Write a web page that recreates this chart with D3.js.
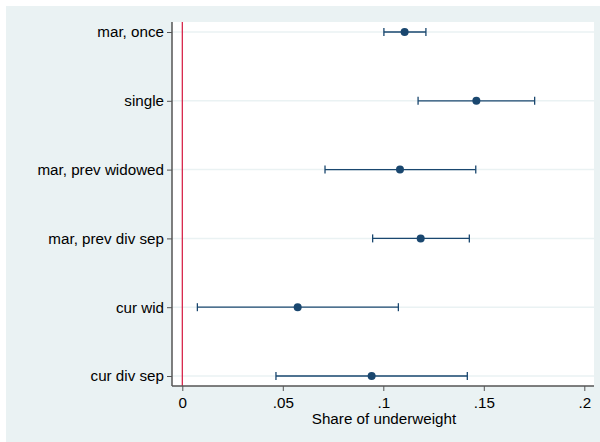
<!DOCTYPE html>
<html><head><meta charset="utf-8">
<script src="https://cdn.jsdelivr.net/npm/d3@7"></script>
<style>body{margin:0;background:#fff}svg{display:block}text{font-family:Arial,"Liberation Sans",sans-serif;fill:#000}</style>
</head><body>
<svg id="c" width="600" height="442"></svg>
<script>
const categories = ["mar, once","single","mar, prev widowed","mar, prev div sep","cur wid","cur div sep"];
const estimates = [0.1106, 0.1463, 0.1083, 0.1186, 0.0574, 0.0942];
const lowerCI = [0.1003, 0.1173, 0.0710, 0.0947, 0.0075, 0.0466];
const upperCI = [0.1212, 0.1753, 0.1460, 0.1428, 0.1075, 0.1418];
const xTicks = [0, 0.05, 0.1, 0.15, 0.2];
const xTickLabels = ["0", ".05", ".1", ".15", ".2"];
const xTitle = "Share of underweight";

const FS = 15.2;
const svg = d3.select("#c");
svg.append("rect").attr("x",6).attr("y",6).attr("width",594).attr("height",436).attr("fill","#eaf2f3");
const L=172, R=594, T=22, B=386;
svg.append("rect").attr("x",L).attr("y",T).attr("width",R-L).attr("height",B-T).attr("fill","#fff");
const x = d3.scaleLinear().domain([0,0.2]).range([182.3,584.3]);
const y = d3.scalePoint().domain(categories).range([32,376]);

// grid
svg.append("g").selectAll("line").data(categories).join("line")
  .attr("x1",L).attr("x2",R).attr("y1",d=>y(d)).attr("y2",d=>y(d))
  .attr("stroke","#eaf2f3").attr("stroke-width",1.5);

// red zero line
svg.append("line").attr("x1",x(0)).attr("x2",x(0)).attr("y1",T).attr("y2",B)
  .attr("stroke","#d4143c").attr("stroke-width",1.2);

// axes
const yAxis = d3.axisLeft(y).tickSize(5).tickPadding(3);
const gy = svg.append("g").attr("transform",`translate(${L},0)`).call(yAxis);
gy.select(".domain").attr("d",`M0,${T}V${B}`).attr("stroke","#555").attr("stroke-width",1.5);
gy.selectAll(".tick line").attr("stroke","#555");
gy.selectAll(".tick text").attr("font-size",FS).attr("font-family","Arial, 'Liberation Sans', sans-serif").attr("fill","#000");

const xAxis = d3.axisBottom(x).tickValues(xTicks).tickFormat((d,i)=>xTickLabels[i]).tickSize(5).tickPadding(6);
const gx = svg.append("g").attr("transform",`translate(0,${B})`).call(xAxis);
gx.select(".domain").attr("d",`M${L},0H${R}`).attr("stroke","#555").attr("stroke-width",1.5);
gx.selectAll(".tick line").attr("stroke","#555");
gx.selectAll(".tick text").attr("font-size",FS).attr("font-family","Arial, 'Liberation Sans', sans-serif").attr("fill","#000")
  .attr("y",21.5).attr("dy","0");

svg.append("text").attr("x",384).attr("y",424).attr("text-anchor","middle")
  .attr("font-size",FS).text(xTitle);

// CI bars
const col = "#1a476f";
const g = svg.append("g");
categories.forEach((c,i)=>{
  const yy = y(c);
  g.append("line").attr("x1",x(lowerCI[i])).attr("x2",x(upperCI[i])).attr("y1",yy).attr("y2",yy)
    .attr("stroke",col).attr("stroke-width",1.3);
  [lowerCI[i],upperCI[i]].forEach(v=>{
    g.append("line").attr("x1",x(v)).attr("x2",x(v)).attr("y1",yy-4).attr("y2",yy+4)
      .attr("stroke",col).attr("stroke-width",1.3);
  });
  g.append("circle").attr("cx",x(estimates[i])).attr("cy",yy).attr("r",4).attr("fill",col);
});
</script>
</body></html>
